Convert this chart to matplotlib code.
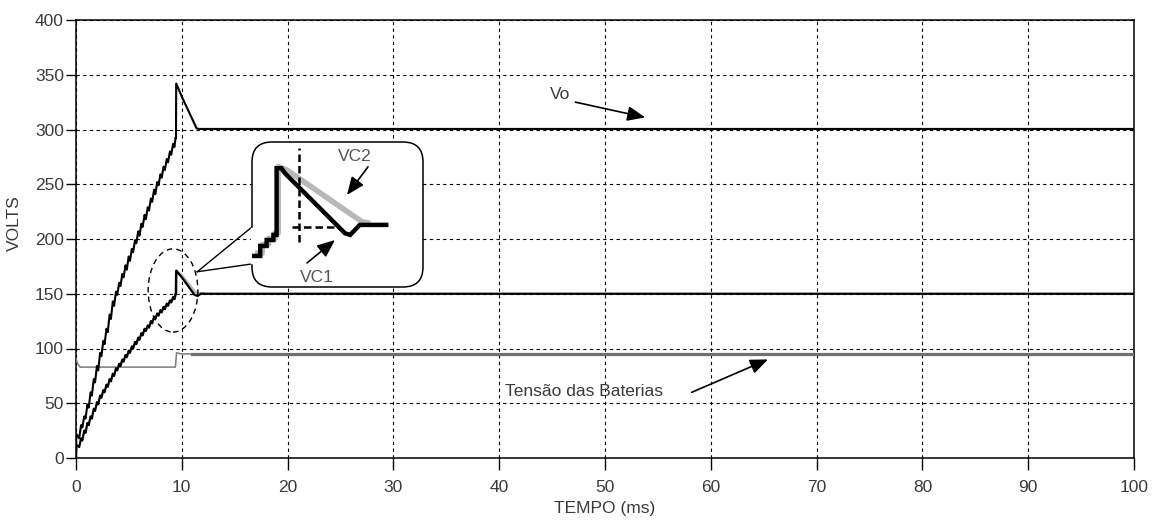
import matplotlib
matplotlib.use('Agg')
import matplotlib.pyplot as plt
from matplotlib.patches import Ellipse, FancyBboxPatch
from matplotlib.lines import Line2D

plt.rcParams['font.family'] = ['Liberation Sans', 'DejaVu Sans']

# ---------------- data ----------------
X_TICKS = list(range(0, 101, 10))
Y_TICKS = list(range(0, 401, 50))

# shared time samples of the sawtooth charging phase
RAMP_T = [0.00, 0.03, 0.30, 0.48, 0.60, 0.78, 0.90, 1.08, 1.20, 1.38, 1.50, 1.68,
          1.80, 1.98, 2.10, 2.28, 2.40, 2.58, 2.70, 2.88, 3.00, 3.18, 3.30, 3.48,
          3.60, 3.78, 3.90, 4.08, 4.20, 4.38, 4.50, 4.68, 4.80, 4.98, 5.10, 5.28,
          5.40, 5.58, 5.70, 5.88, 6.00, 6.18, 6.30, 6.48, 6.60, 6.78, 6.90, 7.08,
          7.20, 7.38, 7.50, 7.68, 7.80, 7.98, 8.10, 8.28, 8.40, 8.58, 8.70, 8.88,
          9.00, 9.18, 9.30, 9.42, 9.45]

# Vo : output voltage (sawtooth charge, overshoot, settle at 300 V)
VO_T = RAMP_T + [9.47, 10.0, 11.4, 11.6, 100.0]
VO_V = [0, 22, 18, 30, 28, 38, 36, 49, 46, 60, 57, 72,
        69, 84, 80, 96, 93, 107, 104, 118, 115, 131, 127, 143,
        139, 152, 149, 160, 157, 168, 165, 176, 172, 184, 180, 191,
        188, 199, 196, 207, 203, 214, 211, 222, 218, 229, 226, 237,
        234, 245, 241, 252, 249, 259, 256, 266, 263, 273, 270, 280,
        277, 287, 284, 293, 292, 342, 330, 301, 300.5, 300.5]

# VC1 : capacitor voltage 1 (black)
VC1_T = RAMP_T + [9.47, 10.0, 11.2, 11.5, 11.8, 100.0]
VC1_V = [0, 12, 10, 18, 16, 25, 23, 32, 30, 38, 36, 45,
         43, 51, 49, 57, 55, 62, 60, 67, 65, 72, 70, 77,
         75, 82, 80, 86, 84, 90, 88, 94, 92, 98, 96, 102,
         100, 106, 104, 110, 108, 114, 112, 118, 116, 121, 119, 125,
         123, 129, 127, 132, 130, 135, 133, 138, 136, 141, 139, 144,
         142, 147, 145, 150, 150, 171, 165, 149, 148, 150, 150]

# VC2 : capacitor voltage 2 (light grey, visible during the overshoot)
VC2_T = [9.30, 9.45, 9.49, 10.0, 11.2, 11.6, 12.0]
VC2_V = [146, 150, 171, 166.5, 152, 150.3, 150.3]

# Battery voltage (grey)
BAT_T = [0.0, 0.15, 0.4, 9.4, 9.5, 10.0, 11.0, 100.0]
BAT_V = [91, 86, 83, 83, 96, 95, 95, 95]

# Zoomed detail of VC1 / VC2 shown in the callout
IN_VC1_T = [8.84, 9.05, 9.05, 9.21, 9.21, 9.38, 9.38, 9.46, 9.46, 9.58, 9.67,
            11.17, 11.30, 11.54, 12.20]
IN_VC1_V = [138.5, 138.5, 142.2, 142.2, 144.4, 144.4, 146.3, 146.3, 171.0, 171.0,
            169.1, 146.9, 146.3, 150.0, 150.0]
IN_VC2_T = [8.92, 9.10, 9.10, 9.26, 9.26, 9.42, 9.42, 9.50, 9.50, 9.71, 11.59, 11.80]
IN_VC2_V = [139.5, 139.5, 142.8, 142.8, 145.0, 145.0, 147.0, 147.0, 171.6, 170.4,
            151.2, 150.6]
IN_XLIM = (8.845, 13.12)
IN_YLIM = (127.0, 180.7)

TXT = '#3a3a3a'

# ---------------- figure ----------------
W, H = 1158, 520
fig = plt.figure(figsize=(W / 100, H / 100), dpi=100)
ax = fig.add_axes([76 / W, 62 / H, 1058 / W, 438 / H])

ax.set_xlim(0, 100)
ax.set_ylim(0, 400)
ax.set_xticks(X_TICKS)
ax.set_yticks(Y_TICKS)
ax.tick_params(axis='x', direction='out', length=8.6, width=1.0, pad=7,
               labelsize=12.5, labelcolor=TXT, top=False)
ax.tick_params(axis='y', direction='out', length=7.2, width=1.0, pad=1.5,
               labelsize=12.5, labelcolor=TXT, right=False)
for s in ax.spines.values():
    s.set_linewidth(1.1)
    s.set_color('black')
ax.set_axisbelow(True)
ax.grid(True, color='black', linestyle=(0, (3, 3)), linewidth=0.8)

ax.set_xlabel('TEMPO (ms)', fontsize=12.5, color=TXT, labelpad=4.5)
ax.set_ylabel('VOLTS', fontsize=12.5, color=TXT)
ax.yaxis.set_label_coords(-0.051, 0.537)

# curves
ax.plot(BAT_T, BAT_V, color='#7a7a7a', lw=1.1, zorder=3)
ax.plot(BAT_T[6:], BAT_V[6:], color='#707070', lw=2.3, zorder=3)
ax.plot(VC2_T, VC2_V, color='#b8b8b8', lw=2.2, zorder=3)
ax.plot(VC1_T, VC1_V, color='black', lw=1.6, zorder=4)
ax.plot(VO_T, VO_V, color='black', lw=1.5, zorder=4)

# dashed ellipse around the overshoot of VC1/VC2
ax.add_patch(Ellipse((9.17, 153), 4.7, 76, fill=False, ec='black', lw=1.0,
                     ls=(0, (4, 3)), zorder=5))

# callout pointer lines (box edge -> ellipse)
ax.plot([16.6, 11.46], [210.7, 170.1], color='black', lw=1.0, zorder=5, clip_on=False)
ax.plot([16.6, 11.46], [177.2, 170.1], color='black', lw=1.0, zorder=5, clip_on=False)

# labels + arrows
arrow_kw = dict(arrowstyle='-|>,head_length=0.6,head_width=0.25',
                mutation_scale=18, lw=1.2, color='black', shrinkA=0, shrinkB=0)
ax.text(45.8, 332, 'Vo', fontsize=12.5, color=TXT, ha='center', va='center')
ax.annotate('', xy=(53.8, 311), xytext=(47.2, 325), arrowprops=arrow_kw)
ax.text(40.55, 61, 'Tensão das Baterias', fontsize=12.5, color=TXT,
        ha='left', va='center')
ax.annotate('', xy=(65.4, 90), xytext=(58.2, 60), arrowprops=arrow_kw)

# callout box (rounded, white filled) drawn in inches
box = FancyBboxPatch((2.52, (H - 287) / 100), 1.71, 1.45,
                     boxstyle='round,pad=0,rounding_size=0.2',
                     transform=fig.dpi_scale_trans, fc='white', ec='black',
                     lw=1.1, zorder=2)
fig.add_artist(box)
gap = Line2D([2.52, 2.52], [(H - 262) / 100, (H - 229) / 100],
             transform=fig.dpi_scale_trans, color='white', lw=2.5, zorder=2.5)
fig.add_artist(gap)

# inset content
axi = fig.add_axes([252 / W, (H - 287) / H, 171 / W, 145 / H])
axi.set_zorder(3)
axi.patch.set_visible(False)
axi.axis('off')
axi.set_xlim(*IN_XLIM)
axi.set_ylim(*IN_YLIM)
axi.plot(IN_VC2_T, IN_VC2_V, color='#b8b8b8', lw=4.0, solid_capstyle='butt')
axi.plot(IN_VC1_T, IN_VC1_V, color='black', lw=3.2, solid_joinstyle='miter')
axi.plot([10.02, 10.02], [143.7, 178.5], color='black', lw=1.8,
         ls=(0, (3, 1.6)))
axi.plot([9.85, 10.97], [149.3, 149.3], color='black', lw=1.8,
         ls=(0, (3, 1.6)))
axi.text(11.42, 175.2, 'VC2', fontsize=12.5, color='#555555',
         ha='center', va='center')
axi.annotate('', xy=(11.22, 161.1), xytext=(11.745, 171.5), arrowprops=arrow_kw)
axi.text(10.47, 130.6, 'VC1', fontsize=12.5, color='#555555',
         ha='center', va='center')
axi.annotate('', xy=(10.92, 144.4), xytext=(10.22, 135.9), arrowprops=arrow_kw)

fig.savefig('out.png', dpi=100)
